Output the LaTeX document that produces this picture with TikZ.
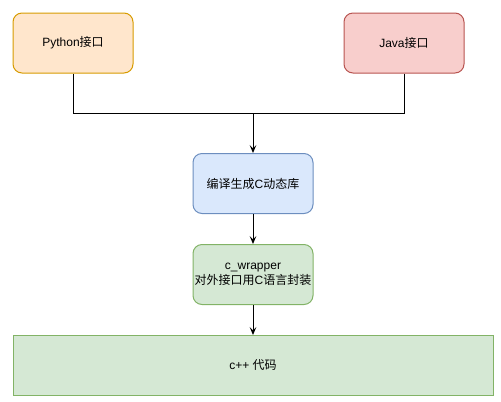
\documentclass[tikz,border=0pt]{standalone}
\usepackage{fontspec}
\setmainfont{Liberation Sans}
\newfontfamily\cjk{Noto Sans CJK SC}
\usepackage{tikz}
\usetikzlibrary{positioning, calc}
\usetikzlibrary{arrows.meta}

\definecolor{pyfill}{HTML}{FFE6CC}\definecolor{pydraw}{HTML}{D79B00}
\definecolor{jvfill}{HTML}{F8CECC}\definecolor{jvdraw}{HTML}{B85450}
\definecolor{libfill}{HTML}{DAE8FC}\definecolor{libdraw}{HTML}{6C8EBF}
\definecolor{wrfill}{HTML}{D5E8D4}\definecolor{wrdraw}{HTML}{82B366}

\tikzset{
    box/.style={draw, line width=0.75pt, minimum width=90pt, minimum height=45pt, inner xsep=1pt,
        rounded corners=6.75pt, align=center, font=\fontsize{9pt}{11pt}\selectfont},
    link/.style={line width=0.75pt, -{Stealth[length=6pt, width=5pt, inset=2.5pt]}}
}

\begin{document}
\begin{tikzpicture}
    \useasboundingbox (0,0) rectangle (375.75pt,-300.75pt);
    \node (Py) [box, fill=pyfill, draw=pydraw] at (54.75pt,-32.25pt) {Python{\cjk 接口}};
    \node (Jv) [box, fill=jvfill, draw=jvdraw, right=157.5pt of Py] {Java{\cjk 接口}};
    \coordinate (Join) at (189.75pt,-84.75pt);
    \node (Lib) [box, fill=libfill, draw=libdraw, below=30pt of Join] {{\cjk 编译生成}C{\cjk 动态库}};
    \node (Wrap) [box, fill=wrfill, draw=wrdraw, below=22.5pt of Lib] {c\_wrapper\\{\cjk 对外接口用}C{\cjk 语言封装}};
    \node (Cpp) [box, fill=wrfill, draw=wrdraw, rounded corners=0pt, minimum width=360pt, below=22.5pt of Wrap] {c++ {\cjk 代码}};
    \draw[line width=0.75pt]
        (Py.south) |- (Join)
        (Jv.south) |- (Join);
    \draw[link] (Join) -- (Lib);
    \draw[link] (Lib) -- (Wrap);
    \draw[link] (Wrap) -- (Cpp);
\end{tikzpicture}
\end{document}
